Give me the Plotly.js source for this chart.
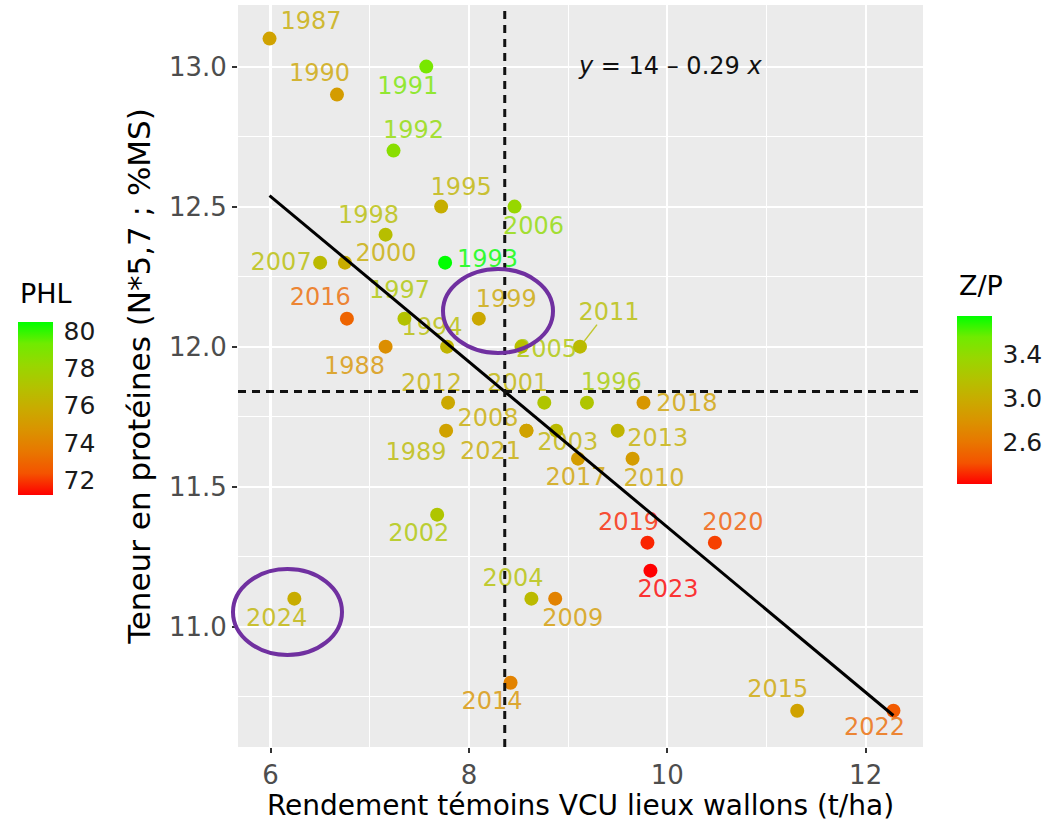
<!DOCTYPE html>
<html><head><meta charset="utf-8">
<script src="https://cdn.plot.ly/plotly-3.0.1.min.js"></script>
<style>html,body{margin:0;padding:0;background:#fff}</style>
</head><body>
<div id="chart" style="width:1054px;height:822px"></div>
<script>
// ---- data ----
const years    = [1987,1988,1989,1990,1991,1992,1993,1994,1995,1996,1997,1998,1999,2000,2001,2002,2003,2004,2005,2006,2007,2008,2009,2010,2011,2012,2013,2014,2015,2016,2017,2018,2019,2020,2021,2022,2023,2024];
const yieldTHa = [5.99,7.16,7.77,6.67,7.57,7.24,7.76,7.78,7.72,9.19,7.35,7.16,8.10,6.75,8.76,7.68,8.88,8.63,8.53,8.46,6.50,8.58,8.87,9.65,9.12,7.79,9.50,8.42,11.31,6.77,9.10,9.76,9.80,10.48,8.58,12.28,9.83,6.24];
const protein  = [13.10,12.00,11.70,12.90,13.00,12.70,12.30,12.00,12.50,11.80,12.10,12.40,12.10,12.30,11.80,11.40,11.70,11.10,12.00,12.50,12.30,11.70,11.10,11.60,12.00,11.80,11.70,10.80,10.70,12.10,11.60,11.80,11.30,11.30,11.70,10.70,11.20,11.10];
const phl      = [75.4,74.5,75.4,75.1,79.1,78.6,80.5,76.3,76.0,77.2,77.0,76.8,75.7,75.9,77.2,77.2,76.6,76.6,76.8,78.2,76.6,75.4,74.0,75.1,76.6,75.7,76.3,74.0,75.4,72.9,75.1,74.9,71.7,72.1,75.4,72.6,71.2,75.9];
const zp       = [2.99,2.80,3.11,2.94,3.52,3.41,3.75,3.14,3.06,3.26,3.21,3.14,2.95,2.99,3.06,3.21,3.06,3.17,3.21,3.41,3.14,2.99,2.86,2.94,3.14,3.02,3.02,2.80,2.94,2.53,2.91,2.91,2.30,2.45,2.99,2.53,2.22,3.06];
const phlTicks = [72,74,76,78,80];
const zpTicks  = [2.6,3.0,3.4];
const xTitle = 'Rendement témoins VCU lieux wallons (t/ha)';
const yTitle = 'Teneur en protéines (N*5,7 ; %MS)';
const phlTitle = 'PHL', zpTitle = 'Z/P';
const eqText = '<i>y</i> = 14 – 0.29 <i>x</i>';

// ---- layout / style config ----
const W = 1054, H = 822;
const M = {l:238, r:131, t:5, b:75};
const xRange = [5.672, 12.578], yRange = [10.5703, 13.22];
const FONT = 'DejaVu Sans';
// label offsets (screen px, dx right, dy down) relative to each point, as ggrepel placed them
const labelOffsets = {
 1987:[41.5,-16],1988:[-31,21.6],1989:[-30,23.5],1990:[-17.5,-20],1991:[-18.5,21],1992:[20,-18.4],
 1993:[42.5,-1.6],1994:[-15,-17.5],1995:[20,-18],1996:[24.4,-18.4],1997:[-5,-26.7],1998:[-17,-17.5],
 1999:[27.4,-17.5],2000:[41,-8],2001:[-26.5,-17.5],2002:[-18.4,20],2003:[11.6,13.3],2004:[-18.4,-18.3],
 2005:[25,4],2006:[19,21.5],2007:[-39,1],2008:[-38.4,-10.7],2009:[17.5,21],2010:[21.5,21],
 2011:[29,-33],2012:[-16.6,-17.5],2013:[40,9.3],2014:[-18.5,20],2015:[-19.4,-20],2016:[-26.7,-19.3],
 2017:[-2,20],2018:[43.4,2.3],2019:[-19,-19],2020:[18,-19],2021:[-35.9,22.6],2022:[-19,18],
 2023:[17.6,20],2024:[-17.7,21]
};
const connectorYears = [2011];
// colourbar geometry (px in the page)
const cbPHL = {left:18, top:322, len:173};
const cbZP  = {left:957, top:315, len:168};
const CB_SHIFT = 44; // empirical correction of container placement

// ggplot-like red->green gradient (Lab interpolation)
const cscale = [[0,'rgb(255,0,0)'],[0.125,'rgb(244,83,0)'],[0.25,'rgb(232,119,0)'],[0.375,'rgb(218,147,0)'],
 [0.5,'rgb(201,171,0)'],[0.625,'rgb(179,194,0)'],[0.75,'rgb(152,215,0)'],[0.875,'rgb(112,235,0)'],[1,'rgb(0,255,0)']];
function parseRgb(s){return s.match(/\d+/g).map(Number);}
function colorFor(v, lo, hi, alpha){
  let t = (v-lo)/(hi-lo); t = Math.max(0, Math.min(1, t));
  for (let i=1;i<cscale.length;i++){
    if (t <= cscale[i][0]){
      const a = parseRgb(cscale[i-1][1]), b = parseRgb(cscale[i][1]);
      const f = (t - cscale[i-1][0])/(cscale[i][0]-cscale[i-1][0]);
      const c = a.map((av,k)=>Math.round(av + (b[k]-av)*f));
      return `rgba(${c[0]},${c[1]},${c[2]},${alpha})`;
    }
  }
  return 'rgb(0,255,0)';
}

const phlMin = Math.min(...phl), phlMax = Math.max(...phl);
const zpMin = Math.min(...zp), zpMax = Math.max(...zp);

// pixel -> data scale
const plotW = W - M.l - M.r, plotH = H - M.t - M.b;
const xPerPx = (xRange[1]-xRange[0])/plotW, yPerPx = (yRange[1]-yRange[0])/plotH;

const labX = yieldTHa.map((x,i)=> x + labelOffsets[years[i]][0]*xPerPx);
const labY = protein.map((y,i)=> y - labelOffsets[years[i]][1]*yPerPx);
const labColors = zp.map(v=>colorFor(v, zpMin, zpMax, 0.8));

// linear regression
const n = yieldTHa.length;
const mx = yieldTHa.reduce((a,b)=>a+b,0)/n, my = protein.reduce((a,b)=>a+b,0)/n;
let sxy=0,sxx=0; for(let i=0;i<n;i++){sxy+=(yieldTHa[i]-mx)*(protein[i]-my); sxx+=(yieldTHa[i]-mx)**2;}
const slope = sxy/sxx, intercept = my - slope*mx;
const xmin = Math.min(...yieldTHa), xmax = Math.max(...yieldTHa);

function cbar(geo, ticks, text){
  return {xref:'container', yref:'container', x:geo.left/W, xanchor:'left',
    y:1-(geo.top+geo.len/2+CB_SHIFT)/H, yanchor:'middle',
    len:geo.len, lenmode:'pixels', thickness:35, xpad:0, ypad:0, outlinewidth:0,
    tickvals:ticks, ticktext:text, ticks:'outside', ticklen:6, tickcolor:'rgba(0,0,0,0)',
    tickfont:{family:FONT, size:25, color:'#1a1a1a'}};
}

const traces = [
  { type:'scatter', mode:'markers', x:yieldTHa, y:protein, hoverinfo:'skip',
    marker:{size:14, color:phl, colorscale:cscale, cmin:phlMin, cmax:phlMax, showscale:true,
      colorbar:cbar(cbPHL, phlTicks, phlTicks.map(String))}},
  { type:'scatter', mode:'text', x:labX, y:labY, text:years.map(String), hoverinfo:'skip', cliponaxis:false,
    textposition:'middle center', textfont:{family:FONT, size:24, color:labColors}},
  { type:'scatter', mode:'lines', x:[xmin,xmax], y:[intercept+slope*xmin, intercept+slope*xmax], hoverinfo:'skip',
    line:{color:'#000', width:3}},
  { type:'scatter', mode:'markers', x:yieldTHa, y:protein, hoverinfo:'skip',
    marker:{size:2, opacity:0, color:zp, colorscale:cscale, cmin:zpMin, cmax:zpMax, showscale:true,
      colorbar:cbar(cbZP, zpTicks, zpTicks.map(v=>v.toFixed(1)))}}
];

const shapes = [
  {type:'line', xref:'x', yref:'paper', x0:mx, x1:mx, y0:0, y1:1, line:{color:'#111', width:3, dash:'8px,6px'}},
  {type:'line', xref:'paper', yref:'y', x0:0, x1:1, y0:my, y1:my, line:{color:'#111', width:3, dash:'8px,6px'}},
  {type:'circle', xref:'paper', yref:'paper', x0:(443-M.l)/plotW, x1:(553-M.l)/plotW, y0:(H-M.b-353)/plotH, y1:(H-M.b-269)/plotH,
    line:{color:'#7030A0', width:4}},
  {type:'circle', xref:'paper', yref:'paper', x0:(233-M.l)/plotW, x1:(342-M.l)/plotW, y0:(H-M.b-655)/plotH, y1:(H-M.b-569)/plotH,
    line:{color:'#7030A0', width:4}}
];
connectorYears.forEach(yr=>{
  const i = years.indexOf(yr);
  const o = labelOffsets[yr];
  shapes.push({type:'line', xref:'x', yref:'y', x0:yieldTHa[i], y0:protein[i],
    x1:yieldTHa[i]+(o[0]-12)*xPerPx, y1:protein[i]-(o[1]+11)*yPerPx, line:{color:labColors[i], width:1.5}});
});

const axisCommon = {showgrid:true, gridcolor:'#ffffff', gridwidth:2.2, zeroline:false, showline:false,
  ticks:'outside', ticklen:5, tickwidth:2, tickcolor:'#333', tickfont:{family:FONT, size:26, color:'#4D4D4D'},
  automargin:false};

const layout = {
  width:W, height:H, margin:M, paper_bgcolor:'#fff', plot_bgcolor:'#EBEBEB', showlegend:false,
  font:{family:FONT},
  xaxis:Object.assign({}, axisCommon, {range:xRange, tick0:6, dtick:2,
    minor:{dtick:1, tick0:5, showgrid:true, gridcolor:'#ffffff', gridwidth:1, ticks:''},
    title:{text:xTitle, font:{family:FONT, size:28, color:'#000'}, standoff:6}}),
  yaxis:Object.assign({}, axisCommon, {range:yRange, tick0:11, dtick:0.5, tickformat:'.1f',
    minor:{dtick:0.25, tick0:10.75, showgrid:true, gridcolor:'#ffffff', gridwidth:1, ticks:''},
    title:{text:yTitle, font:{family:FONT, size:31, color:'#000'}, standoff:9}}),
  shapes:shapes,
  annotations:[
    {xref:'paper', yref:'paper', x:(670-M.l)/plotW, y:(H-M.b-66)/plotH, xanchor:'center', yanchor:'middle',
      text:eqText, showarrow:false, font:{family:FONT, size:24, color:'#111'}},
    {xref:'paper', yref:'paper', x:(cbPHL.left-M.l)/plotW, y:(H-M.b-294)/plotH, xanchor:'left', yanchor:'middle',
      text:phlTitle, showarrow:false, font:{family:FONT, size:27, color:'#000'}},
    {xref:'paper', yref:'paper', x:(cbZP.left-M.l)/plotW, y:(H-M.b-285)/plotH, xanchor:'left', yanchor:'middle',
      text:zpTitle, showarrow:false, font:{family:FONT, size:27, color:'#000'}}
  ]
};

Plotly.newPlot('chart', traces, layout, {displayModeBar:false, staticPlot:true});
</script>
</body></html>
